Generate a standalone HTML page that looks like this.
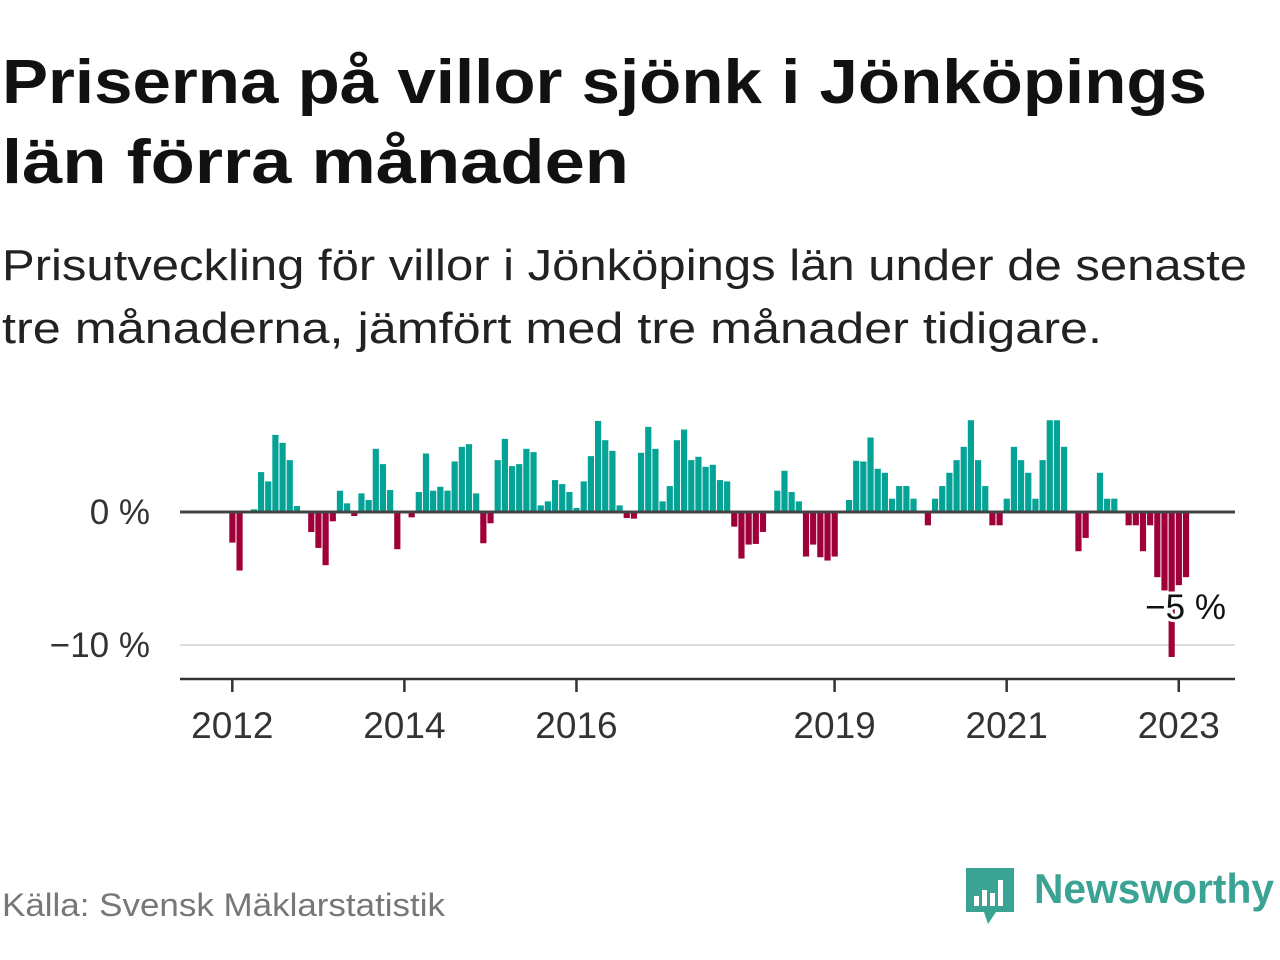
<!DOCTYPE html>
<html><head><meta charset="utf-8">
<style>
html,body{margin:0;padding:0;background:#fff;}
svg{display:block;font-family:"Liberation Sans",sans-serif;}
</style></head>
<body>
<svg id="chart" width="1280" height="960" viewBox="0 0 1280 960">
<text x="2" y="103" font-size="62" font-weight="bold" fill="#111" textLength="1205" lengthAdjust="spacingAndGlyphs">Priserna på villor sjönk i Jönköpings</text>
<text x="2" y="183" font-size="62" font-weight="bold" fill="#111" textLength="627" lengthAdjust="spacingAndGlyphs">län förra månaden</text>
<text x="2" y="280" font-size="44" fill="#222" textLength="1245" lengthAdjust="spacingAndGlyphs">Prisutveckling för villor i Jönköpings län under de senaste</text>
<text x="2" y="343" font-size="44" fill="#222" textLength="1100" lengthAdjust="spacingAndGlyphs">tre månaderna, jämfört med tre månader tidigare.</text>
<g id="plot"></g>
<text x="2" y="916" font-size="32" fill="#777" textLength="443" lengthAdjust="spacingAndGlyphs">Källa: Svensk Mäklarstatistik</text>
<g>
<path d="M966 868 h48 v44 h-18 l-8 12 l-4 -12 h-18 z" fill="#3aa394"/>
<rect x="974" y="896" width="5" height="10" fill="#fff"/>
<rect x="982" y="890" width="5" height="16" fill="#fff"/>
<rect x="990" y="893" width="5" height="13" fill="#fff"/>
<rect x="998" y="880" width="5" height="26" fill="#fff"/>
<text x="1034" y="903" font-size="42" font-weight="bold" fill="#3aa394" textLength="240" lengthAdjust="spacingAndGlyphs">Newsworthy</text>
</g>
</svg>
<script>
const values = [-2.3,-4.4,0,0.2,3.0,2.3,5.8,5.2,3.9,0.45,0,-1.5,-2.7,-4.0,-0.7,1.6,0.65,-0.3,1.4,0.9,4.75,3.6,1.65,-2.8,0,-0.4,1.5,4.4,1.6,1.9,1.6,3.8,4.9,5.1,1.4,-2.35,-0.85,3.9,5.5,3.45,3.6,4.75,4.5,0.5,0.8,2.4,2.1,1.5,0.3,2.3,4.2,6.85,5.4,4.6,0.5,-0.45,-0.5,4.45,6.4,4.75,0.8,1.95,5.4,6.2,3.9,4.15,3.4,3.55,2.4,2.3,-1.1,-3.5,-2.45,-2.4,-1.5,0,1.6,3.1,1.5,0.8,-3.35,-2.45,-3.4,-3.65,-3.35,0.1,0.9,3.85,3.8,5.6,3.25,2.95,1.0,1.95,1.95,1.0,0,-1.0,1.0,1.95,2.95,3.9,4.9,6.9,3.9,1.95,-1.0,-1.0,1.0,4.9,3.9,2.95,1.0,3.9,6.9,6.9,4.9,0,-2.95,-1.95,0,2.95,1.0,1.0,0,-1.0,-1.0,-2.95,-1.0,-4.9,-5.9,-10.9,-5.5,-4.9];
const startYear = 2012;
const xTickYears = [2012,2014,2016,2019,2021,2023];
const yTickValues = [0,-10];
const yTickLabels = ["0 %","\u221210 %"];
const annotationLabel = "\u22125 %";
const annotationIndex = 131;

const NS="http://www.w3.org/2000/svg";
const plot=document.getElementById('plot');
function xMonth(i){return 232.3+7.17*i;}
function xYear(y){return xMonth((y-startYear)*12);}
function yVal(v){return 512-13.3*v;}
function mk(tag,attrs){const e=document.createElementNS(NS,tag);for(const k in attrs)e.setAttribute(k,attrs[k]);plot.appendChild(e);return e;}

yTickValues.forEach((v,k)=>{
  if(v!==0){const g=mk('line',{x1:180,x2:1235,y1:yVal(v),y2:yVal(v),stroke:'#ddd','stroke-width':2});
  
  }
  const t=mk('text',{x:150,y:yVal(v)+12,'font-size':35,fill:'#333','text-anchor':'end'});
  t.textContent=yTickLabels[k];
  
  
});
values.forEach((v,i)=>{
  if(v===0)return;
  const y0=yVal(0),y1=yVal(v);
  const r=mk('rect',{x:xMonth(i)-3,y:Math.min(y0,y1),width:6.2,height:Math.abs(y1-y0),fill:v>0?'#05a396':'#a0003a'});
  
  
});
const z=mk('line',{x1:180,x2:1235,y1:yVal(0),y2:yVal(0),stroke:'#444','stroke-width':3});


const ax=mk('line',{x1:180,x2:1235,y1:679,y2:679,stroke:'#333','stroke-width':2.5});


xTickYears.forEach(y=>{
  const l=mk('line',{x1:xYear(y),x2:xYear(y),y1:679,y2:692,stroke:'#333','stroke-width':2.5});
  
  
  const t=mk('text',{x:xYear(y),y:738,'font-size':37,fill:'#333','text-anchor':'middle'});
  t.textContent=y;
  
  
});
const ann=mk('text',{x:xMonth(annotationIndex)+14,y:619,'font-size':35,fill:'#111','text-anchor':'middle',stroke:'#fff','stroke-width':6,'paint-order':'stroke'});
ann.textContent=annotationLabel;


</script>
</body></html>
